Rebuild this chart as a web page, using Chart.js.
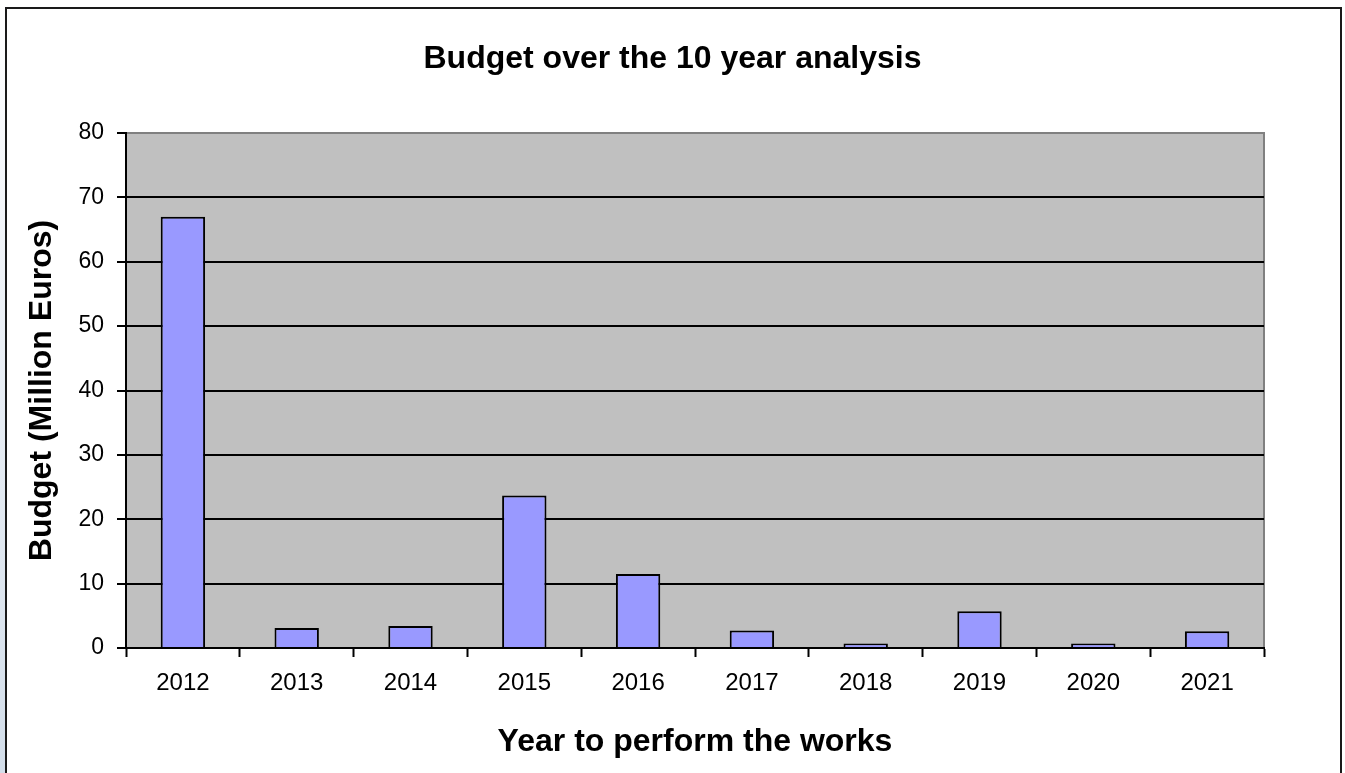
<!DOCTYPE html>
<html>
<head>
<meta charset="utf-8">
<title>Budget over the 10 year analysis</title>
<script src="https://cdn.jsdelivr.net/npm/chart.js@4.4.1/dist/chart.umd.min.js"></script>
<style>
  html, body { margin: 0; padding: 0; background: #fff; overflow: hidden; }
  #wrap { position: relative; width: 1345px; height: 773px; }
  #edge { position: absolute; left: 0; top: 0; width: 5px; height: 773px;
          background: linear-gradient(to bottom, #ffffff 0%, #eef2f7 35%, #d3deea 100%); }
  #frame { position: absolute; left: 5px; top: 7px; width: 1333px; height: 900px;
           border: 2px solid #1a1a1a; box-sizing: content-box; }
  #budgetChart { position: absolute; left: 0; top: 0; }
</style>
</head>
<body>
<div id="wrap">
  <div id="edge"></div>
  <div id="frame"></div>
  <canvas id="budgetChart" width="1345" height="773"></canvas>
</div>
<script>
const years = ['2012', '2013', '2014', '2015', '2016', '2017', '2018', '2019', '2020', '2021'];
const budget = [67.0, 3.1, 3.4, 23.7, 11.5, 2.7, 0.7, 5.7, 0.7, 2.6];
const yTicks = [0, 10, 20, 30, 40, 50, 60, 70, 80];

const chartTitle = 'Budget over the 10 year analysis';
const FONT = '"Liberation Sans", Arial, Helvetica, sans-serif';

// grey plot background with a grey outline on top and right
const plotBackground = {
  id: 'plotBackground',
  beforeDraw(chart) {
    const { ctx, chartArea: a } = chart;
    ctx.save();
    ctx.fillStyle = '#c0c0c0';
    ctx.fillRect(a.left, a.top, a.right - a.left, a.bottom - a.top);
    ctx.strokeStyle = '#808080';
    ctx.lineWidth = 2;
    ctx.beginPath();
    ctx.moveTo(a.left, a.top);
    ctx.lineTo(a.right, a.top);
    ctx.lineTo(a.right, a.bottom);
    ctx.stroke();
    ctx.restore();
  }
};

// title centred on the whole canvas
const pageTitle = {
  id: 'pageTitle',
  afterDraw(chart) {
    const { ctx } = chart;
    ctx.save();
    ctx.font = 'bold 32px ' + FONT;
    ctx.fillStyle = '#000';
    ctx.textAlign = 'center';
    ctx.textBaseline = 'middle';
    ctx.fillText(chartTitle, chart.width / 2, 59);
    ctx.restore();
  }
};

const ctx = document.getElementById('budgetChart').getContext('2d');
new Chart(ctx, {
  type: 'bar',
  data: {
    labels: years,
    datasets: [{
      label: 'Budget',
      data: budget,
      backgroundColor: '#9999ff',
      borderColor: '#000',
      borderWidth: 2,
      borderSkipped: 'start',
      categoryPercentage: 1.0,
      barPercentage: 0.39
    }]
  },
  options: {
    responsive: false,
    animation: false,
    devicePixelRatio: 1,
    layout: { padding: { left: 10, right: 81, top: 133, bottom: 0 } },
    plugins: {
      legend: { display: false },
      tooltip: { enabled: false },
      title: { display: false }
    },
    scales: {
      x: {
        offset: true,
        grid: {
          offset: true,
          drawOnChartArea: false,
          drawTicks: true,
          tickLength: 9,
          tickColor: '#000',
          tickWidth: 2
        },
        border: { color: '#000', width: 2 },
        ticks: { color: '#000', padding: 12, font: { family: FONT, size: 24 } },
        title: {
          display: true,
          text: 'Year to perform the works',
          color: '#000',
          font: { family: FONT, size: 32, weight: 'bold' },
          padding: { top: 0, bottom: 12 }
        },
        afterFit(scale) { scale.height = 125; }
      },
      y: {
        min: 0,
        max: 80,
        afterBuildTicks(scale) { scale.ticks = yTicks.map(v => ({ value: v })); },
        grid: {
          color: c => (c.tick && c.tick.value === 80 ? '#808080' : '#000'),
          lineWidth: 2,
          drawTicks: true,
          tickLength: 9,
          tickColor: '#000',
          tickWidth: 2
        },
        border: { color: '#000', width: 2 },
        ticks: { color: '#000', padding: 13, font: { family: FONT, size: 23 } },
        title: {
          display: true,
          text: 'Budget (Million Euros)',
          color: '#000',
          font: { family: FONT, size: 32, weight: 'bold' },
          padding: { top: 13, bottom: 0 }
        },
        afterFit(scale) { scale.width = 116; }
      }
    }
  },
  plugins: [plotBackground, pageTitle]
});
</script>
</body>
</html>
